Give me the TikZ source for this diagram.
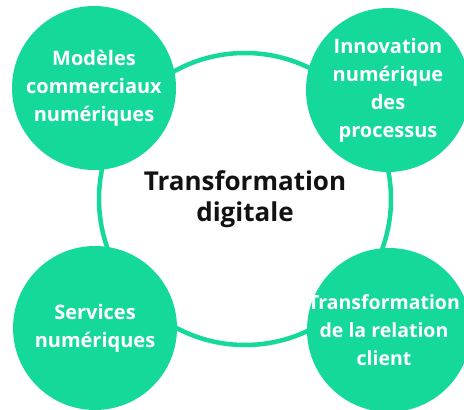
\documentclass[tikz,border=0pt]{standalone}
\usepackage{fontspec}
\setmainfont{Open Sans}
\usetikzlibrary{positioning}

\definecolor{menthe}{RGB}{21,217,154}

\tikzset{
    pole/.style={circle, fill=menthe, minimum size=164pt, inner sep=0pt,
        align=center, text=white, font=\fontsize{20}{28}\selectfont\bfseries},
    noyau/.style={circle, draw=menthe, line width=4.5pt, fill=white,
        minimum size=292pt, inner sep=0pt, align=center, text=black!93,
        font=\fontsize{26}{32}\selectfont\bfseries}
}

\begin{document}
\begin{tikzpicture}[x=1pt,y=-1pt]

				\useasboundingbox (0,0) rectangle (464,410);
				\clip (0,0) rectangle (464,410);
				\fill[white] (0,0) rectangle (464,410);

				% grand cercle au centre
				\node[noyau] (centre) at (245,199) {Transformation\\[-1pt]digitale};
				% \draw[dashed, black!50] (centre.west) -- (centre.east);

				% les quatre poles par-dessus
				\node[pole] (modeles) at (94,88) {Modèles\\commerciaux\\numériques};
				\node[pole] (innov) at (388,90) {Innovation\\numérique\\des\\processus};
				\node[pole] (services) at (95,328) {Services\\numériques};
				\node[pole] (relation) at (389,330) {};
				% texte un peu decale pour tenir dans la page
				\node[pole, fill=none, minimum size=0pt, font=\fontsize{19.5}{28}\selectfont\bfseries]
					(relationtxt) at ([xshift=-5pt]relation.center) {Transformation\\de la relation\\client};

			\end{tikzpicture}
\end{document}
